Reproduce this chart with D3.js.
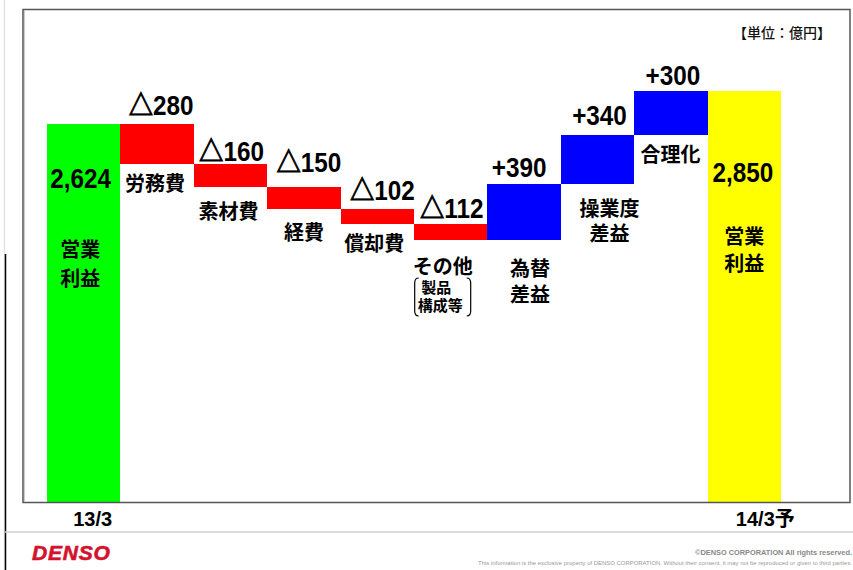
<!DOCTYPE html>
<html>
<head>
<meta charset="utf-8">
<script src="https://cdn.jsdelivr.net/npm/d3@7/dist/d3.min.js"></script>
<style>
  html, body { margin: 0; padding: 0; background: #fff; }
  svg { display: block; }
</style>
</head>
<body>
<svg id="chart" width="853" height="570"></svg>
<script>
// ---------- DATA ----------
const categories = ["13/3", "労務費", "素材費", "経費", "償却費", "その他", "為替差益", "操業度差益", "合理化", "14/3予"];
const changes = [2624, -280, -160, -150, -102, -112, 390, 340, 300, 2850];
const kinds = ["total", "neg", "neg", "neg", "neg", "neg", "pos", "pos", "pos", "total"];
const valueLabels = ["2,624", "△280", "△160", "△150", "△102", "△112", "+390", "+340", "+300", "2,850"];
const categoryLines = [["営業", "利益"], ["労務費"], ["素材費"], ["経費"], ["償却費"], ["その他"], ["為替", "差益"], ["操業度", "差益"], ["合理化"], ["営業", "利益"]];
const axisLabels = ["13/3", "14/3予"];
const unitLabel = "【単位：億円】";
const subNote = ["製品", "構成等"];

// ---------- LAYOUT ----------
const svg = d3.select("#chart");
const colors = { total0: "#00ff00", total1: "#ffff00", neg: "#ff0000", pos: "#0000ff" };
const x = d3.scaleBand().domain(categories).range([47, 781]).padding(0);
const y = d3.scaleLinear().domain([0, 3400]).range([502, 12]);

// compute waterfall segments
let running = 0;
const bars = categories.map((c, i) => {
  let lo, hi;
  if (kinds[i] === "total") { lo = 0; hi = changes[i]; running = changes[i]; }
  else { const start = running; running += changes[i]; lo = Math.min(start, running); hi = Math.max(start, running); }
  return { cat: c, lo, hi, kind: kinds[i], i };
});

// page decorations
svg.append("line").attr("x1", 4.5).attr("x2", 4.5).attr("y1", 0).attr("y2", 570).attr("stroke", "#e2e2e2").attr("stroke-width", 1.5);
svg.append("line").attr("x1", 5.5).attr("x2", 5.5).attr("y1", 254).attr("y2", 570).attr("stroke", "#000").attr("stroke-width", 1.5);
svg.append("line").attr("x1", 5).attr("x2", 853).attr("y1", 532).attr("y2", 532).attr("stroke", "#d0d0d0").attr("stroke-width", 1.5);

// bars
svg.append("g").selectAll("rect").data(bars).join("rect")
  .attr("x", d => x(d.cat))
  .attr("width", x.bandwidth())
  .attr("y", d => y(d.hi))
  .attr("height", d => y(d.lo) - y(d.hi))
  .attr("fill", d => d.kind === "total" ? (d.i === 0 ? colors.total0 : colors.total1) : colors[d.kind])
  .attr("shape-rendering", "crispEdges");

// frame
svg.append("rect").attr("x", 23).attr("y", 9.5).attr("width", 827).attr("height", 493)
  .attr("fill", "none").attr("stroke", "#555").attr("stroke-width", 1.5);
svg.append("line").attr("x1", 24.5).attr("x2", 24.5).attr("y1", 10).attr("y2", 502).attr("stroke", "#ccc").attr("stroke-width", 1);

// value labels
const valFont = "'Liberation Sans', Arial, sans-serif";
const valOffsets = [ // [dx from band centre, baseline offset from bar top]
  [-3, 64], [4, -9], [1, -3], [5, -15], [5, -9], [1, -6], [-5, -7], [2, -10], [2, -6], [-1.5, 91]
];
bars.forEach((d, i) => {
  const cx = x(d.cat) + x.bandwidth() / 2 + valOffsets[i][0];
  const by = y(d.hi) + valOffsets[i][1];
  const g = svg.append("g").attr("transform", `translate(${cx},${by}) scale(0.9,1)`);
  const t = g.append("text").attr("text-anchor", "middle").attr("font-family", valFont)
    .attr("font-weight", "bold").attr("font-size", 27).attr("fill", "#000");
  const s = valueLabels[i];
  if (s.startsWith("△")) {
    t.append("tspan").attr("font-family", "'Noto Sans CJK JP', sans-serif").attr("font-weight", "bold")
      .attr("stroke", "#000").attr("stroke-width", 0.9).text("△");
    t.append("tspan").text(s.slice(1));
  } else t.text(s);
});

// category labels
const catFont = "'Noto Sans CJK JP', sans-serif";
const catPos = [ // [dx from band centre, first line centre y]
  [-3.5, 248], [-2, 182], [-2, 210], [0, 231], [-3, 242], [-8, 265], [6, 267], [12, 207], [-0.5, 153], [0, 235]
];
const lineGap = [29, 0, 0, 0, 0, 0, 26, 25, 0, 27];
bars.forEach((d, i) => {
  const cx = x(d.cat) + x.bandwidth() / 2 + catPos[i][0];
  const cy = catPos[i][1];
  categoryLines[i].forEach((ln, k) => {
    svg.append("text").attr("x", cx).attr("y", cy + k * lineGap[i])
      .attr("text-anchor", "middle").attr("dominant-baseline", "central")
      .attr("font-family", catFont).attr("font-weight", "bold").attr("font-size", 20)
      .attr("fill", "#000").text(ln);
  });
});

// sub note for その他 with brackets
{
  const c = x("その他") + x.bandwidth() / 2;
  svg.append("text").attr("x", c - 14.5).attr("y", 286).attr("text-anchor", "middle").attr("dominant-baseline", "central")
    .attr("font-family", catFont).attr("font-weight", "bold").attr("font-size", 15).text(subNote[0]);
  svg.append("text").attr("x", c - 10.5).attr("y", 304).attr("text-anchor", "middle").attr("dominant-baseline", "central")
    .attr("font-family", catFont).attr("font-weight", "bold").attr("font-size", 15).text(subNote[1]);
  const l = c - 36, r = c + 20;
  svg.append("path").attr("d", `M${l + 4},278 Q${l},278 ${l},283 L${l},311 Q${l},316 ${l + 4},316`)
    .attr("fill", "none").attr("stroke", "#000").attr("stroke-width", 1.2);
  svg.append("path").attr("d", `M${r - 4},278 Q${r},278 ${r},283 L${r},311 Q${r},316 ${r - 4},316`)
    .attr("fill", "none").attr("stroke", "#000").attr("stroke-width", 1.2);
}

// x axis (only first and last labelled)
const axisMap = { "13/3": axisLabels[0], "14/3予": axisLabels[1] };
const xAxis = d3.axisBottom(x).tickValues([categories[0], categories[categories.length - 1]])
  .tickSize(0).tickPadding(0).tickFormat(d => axisMap[d]);
const ag = svg.append("g").attr("transform", "translate(0,502)").call(xAxis);
ag.select(".domain").remove();
ag.selectAll("text").attr("font-family", "'Liberation Sans', Arial, 'Noto Sans CJK JP', sans-serif")
  .attr("font-weight", "bold").attr("font-size", 20).attr("fill", "#000")
  .attr("dy", null).attr("y", 24)
  .attr("dx", (d, i) => i === 1 ? 21 : 9);

// unit label
svg.append("text").attr("x", 831).attr("y", 32).attr("text-anchor", "end").attr("dominant-baseline", "central")
  .attr("font-family", catFont).attr("font-weight", 500).attr("font-size", 14).attr("fill", "#111").text(unitLabel);

// footer
svg.append("text").attr("x", 32).attr("y", 560).attr("font-family", "'Liberation Sans', Arial, sans-serif")
  .attr("font-weight", "bold").attr("font-style", "italic").attr("font-size", 21).attr("letter-spacing", 0.8)
  .attr("fill", "#d4122c").attr("stroke", "#d4122c").attr("stroke-width", 0.6).text("DENSO");
svg.append("text").attr("x", 852).attr("y", 555).attr("text-anchor", "end")
  .attr("font-family", "'Liberation Sans', Arial, sans-serif").attr("font-weight", "bold").attr("font-size", 7)
  .attr("textLength", 157).attr("lengthAdjust", "spacingAndGlyphs")
  .attr("fill", "#888").text("©DENSO CORPORATION  All rights reserved.");
svg.append("text").attr("x", 478).attr("y", 564.5)
  .attr("font-family", "'Liberation Sans', Arial, sans-serif").attr("font-size", 5.6)
  .attr("textLength", 374).attr("lengthAdjust", "spacingAndGlyphs")
  .attr("fill", "#999").text("This information is the exclusive property of DENSO CORPORATION.   Without their consent, it may not be reproduced or given to third parties.");
</script>
</body>
</html>
